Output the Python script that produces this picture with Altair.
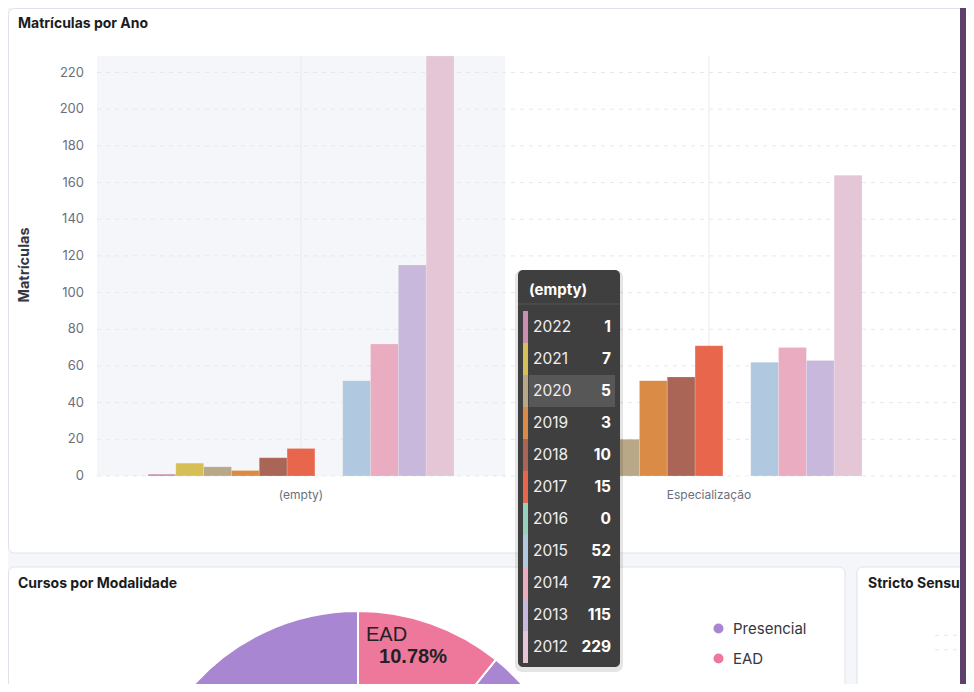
import altair as alt
import pandas as pd

# ---------------- data ----------------
years = ["2022", "2021", "2020", "2019", "2018", "2017", "2016", "2015", "2014", "2013", "2012"]
year_colors = ["#ca8eae", "#d6bf57", "#b9a888", "#da8b45", "#aa6556", "#e7664c",
               "#98d2bd", "#b0c9e0", "#e9acc0", "#c8b8dc", "#e5c6d6"]
categories = ["(empty)", "Especialização", "Mestrado"]

empty_years = years
empty_vals = [1, 7, 5, 3, 10, 15, 0, 52, 72, 115, 229]
espec_years = ["2020", "2019", "2018", "2017", "2016", "2015", "2014", "2013", "2012"]
espec_vals = [20, 52, 54, 71, 0, 62, 70, 63, 164]
third_years = ["2022"]
third_vals = [17]

y_ticks = [0, 20, 40, 60, 80, 100, 120, 140, 160, 180, 200, 220]

modalities = ["Presencial", "EAD"]
modality_pct = [89.22, 10.78]
modality_order = [1, 0]
modality_colors = ["#a886d1", "#ee789c"]

# ---------------- tables ----------------
bars = pd.concat([
    pd.DataFrame({"cat": categories[0], "year": empty_years, "value": empty_vals}),
    pd.DataFrame({"cat": categories[1], "year": espec_years, "value": espec_vals}),
    pd.DataFrame({"cat": categories[2], "year": third_years, "value": third_vals}),
], ignore_index=True)
tip = pd.DataFrame({"cat": categories[0], "year": empty_years, "value": empty_vals})
ticks = pd.DataFrame({"t": y_ticks})
cats = pd.DataFrame({"cat": categories})
visible_cats = pd.DataFrame({"cat": categories[:2]})
pie = pd.DataFrame({"mod": modalities, "pct": modality_pct, "ord": modality_order})
dummy = pd.DataFrame({"a": [0]})

FONT = "Inter"
LABEL_FONT = "Liberation Sans"
W, H = 958, 676

x_scale = alt.Scale(type="band", domain=categories, range=[89, 89 + 408 * 3],
                    paddingInner=0, paddingOuter=0)
y_scale = alt.Scale(domain=[0, 229], range=[468, 48], nice=False, zero=True)
xoff_scale = alt.Scale(type="band", domain=years, range=[51, 357], paddingInner=0, paddingOuter=0)
year_color = alt.Scale(domain=years, range=year_colors)
row_scale = alt.Scale(type="band", domain=years, range=[303, 655], paddingInner=0, paddingOuter=0)


def box(x, x2, y, y2, **kw):
    return alt.Chart(dummy).mark_rect(**kw).encode(
        x=alt.value(x), x2=alt.value(x2), y=alt.value(y), y2=alt.value(y2))


def label(txt, x, y, **kw):
    return alt.Chart(pd.DataFrame({"t": [txt]})).mark_text(**kw).encode(
        x=alt.value(x), y=alt.value(y), text="t:N")


layers = []

# cards
layers.append(box(0.5, 1000, 0.5, 545, fill="white", stroke="#dee2eb", strokeWidth=1, cornerRadius=6))
layers.append(box(0.5, 837, 559, 720, fill="white", stroke="#dee2eb", strokeWidth=1, cornerRadius=6))
layers.append(box(849, 1000, 559, 720, fill="white", stroke="#dee2eb", strokeWidth=1, cornerRadius=6))

# hovered band highlight
layers.append(alt.Chart(cats).transform_filter(alt.datum.cat == categories[0]).mark_rect(
    color="#f5f6fa").encode(
    x=alt.X("cat:N", scale=x_scale, axis=None),
    y=alt.value(48), y2=alt.value(468)))

# horizontal grid
layers.append(alt.Chart(ticks).mark_rule(color="#e6e8ee", strokeWidth=1, strokeDash=[4, 5]).encode(
    y=alt.Y("t:Q", scale=y_scale, axis=None),
    x=alt.value(89), x2=alt.value(W)))

# vertical grid at category centers
layers.append(alt.Chart(cats).mark_rule(color="#e8eaf0", strokeWidth=1).encode(
    x=alt.X("cat:N", scale=x_scale, axis=None, bandPosition=0.5),
    y=alt.value(48), y2=alt.value(468)))

# bars
layers.append(alt.Chart(bars).mark_bar(stroke="white", strokeOpacity=0.35, strokeWidth=0.5).encode(
    x=alt.X("cat:N", scale=x_scale, axis=None),
    xOffset=alt.XOffset("year:N", scale=xoff_scale),
    y=alt.Y("value:Q", scale=y_scale, axis=None),
    color=alt.Color("year:N", scale=year_color, legend=None)))

# y tick labels
layers.append(alt.Chart(ticks).mark_text(align="right", baseline="middle", fontSize=13,
                                         font=FONT, color="#69707d").encode(
    y=alt.Y("t:Q", scale=y_scale, axis=None),
    x=alt.value(76), text="t:Q"))

# x category labels (only those inside the visible part of the panel)
layers.append(alt.Chart(visible_cats).mark_text(align="center", baseline="middle", fontSize=12,
                                                font=FONT, color="#69707d").encode(
    x=alt.X("cat:N", scale=x_scale, axis=None, bandPosition=0.5),
    y=alt.value(487), text="cat:N"))

# titles
layers.append(label("Matrículas por Ano", 10, 16, align="left", baseline="middle",
                    fontSize=14, fontWeight="bold", font=FONT, color="#1a1c21"))
layers.append(label("Matrículas", 17, 257, align="center", baseline="middle", angle=270,
                    fontSize=14.5, fontWeight="bold", font=FONT, color="#343741"))
layers.append(label("Cursos por Modalidade", 10, 576, align="left", baseline="middle",
                    fontSize=14, fontWeight="bold", font=FONT, color="#1a1c21"))
layers.append(label("Stricto Sensu", 860, 576, align="left", baseline="middle",
                    fontSize=14, fontWeight="bold", font=FONT, color="#1a1c21"))

# faint grid in Stricto Sensu panel
layers.append(alt.Chart(pd.DataFrame({"g": [0, 1]})).mark_rule(
    color="#e6e8ee", strokeDash=[4, 5]).encode(
    y=alt.Y("g:O", scale=alt.Scale(type="point", domain=[0, 1], range=[620, 649]), axis=None),
    x=alt.value(927), x2=alt.value(W)))

# pie
layers.append(alt.Chart(pie).mark_arc(radius=220, stroke="white", strokeWidth=2).encode(
    theta=alt.Theta("pct:Q", stack=True),
    order=alt.Order("ord:Q"),
    color=alt.Color("mod:N", scale=alt.Scale(domain=modalities, range=modality_colors),
                    legend=alt.Legend(orient="none", legendX=703, legendY=613, title=None,
                                      symbolType="circle", symbolSize=100, symbolStrokeWidth=0,
                                      labelFontSize=15, labelFont=FONT, labelColor="#343741",
                                      labelOffset=7, rowPadding=14, padding=0)),
    x=alt.value(350), y=alt.value(823)))

# pie labels (EAD slice)
ead = alt.Chart(pie).transform_filter(alt.datum.mod == "EAD")
layers.append(ead.mark_text(align="left", baseline="middle", fontSize=20, font=LABEL_FONT,
                            color="#222222").encode(
    x=alt.value(358), y=alt.value(627), text="mod:N"))
layers.append(ead.transform_calculate(lab="format(datum.pct, '.2f') + '%'").mark_text(
    align="center", baseline="middle", fontSize=20, fontWeight="bold", font=LABEL_FONT,
    color="#222222").encode(
    x=alt.value(405), y=alt.value(649), text="lab:N"))

# tooltip
layers.append(box(507, 615, 262, 664, fill="black", opacity=0.10, cornerRadius=7))
layers.append(box(510, 612, 262, 659, fill="#3f3f3f", cornerRadius=5))
layers.append(alt.Chart(tip.head(1)).mark_text(align="left", baseline="middle", fontSize=15,
                                               fontWeight="bold", font=FONT, color="white").encode(
    x=alt.value(521), y=alt.value(282), text="cat:N"))
layers.append(alt.Chart(dummy).mark_rule(color="#575757", strokeWidth=1).encode(
    x=alt.value(510), x2=alt.value(612), y=alt.value(296)))
layers.append(alt.Chart(tip).transform_filter(alt.datum.year == "2020").mark_rect(
    color="#575757").encode(
    y=alt.Y("year:N", scale=row_scale, axis=None),
    x=alt.value(521), x2=alt.value(607)))
layers.append(alt.Chart(tip).mark_rect().encode(
    y=alt.Y("year:N", scale=row_scale, axis=None),
    x=alt.value(515), x2=alt.value(520),
    color=alt.Color("year:N", scale=year_color, legend=None)))
layers.append(alt.Chart(tip).mark_text(align="left", baseline="middle", fontSize=15.5,
                                       font=FONT, color="#eeeeee").encode(
    y=alt.Y("year:N", scale=row_scale, axis=None, bandPosition=0.5),
    x=alt.value(525), text="year:N"))
layers.append(alt.Chart(tip).mark_text(align="right", baseline="middle", fontSize=15.5,
                                       fontWeight="bold", font=FONT, color="white").encode(
    y=alt.Y("year:N", scale=row_scale, axis=None, bandPosition=0.5),
    x=alt.value(603), text="value:Q"))

# right purple strip (sidebar edge)
layers.append(box(952, W + 2, -5, H + 5, fill="#5c416c"))

chart = alt.layer(*layers).resolve_scale(
    x="independent", y="independent", color="independent"
).properties(
    width=W, height=H, padding=0,
    autosize=alt.AutoSizeParams(type="none"),
    background="#f4f6fa",
).configure_view(stroke=None)

chart.save("out.html", embed_options={"renderer": "svg", "actions": False})
